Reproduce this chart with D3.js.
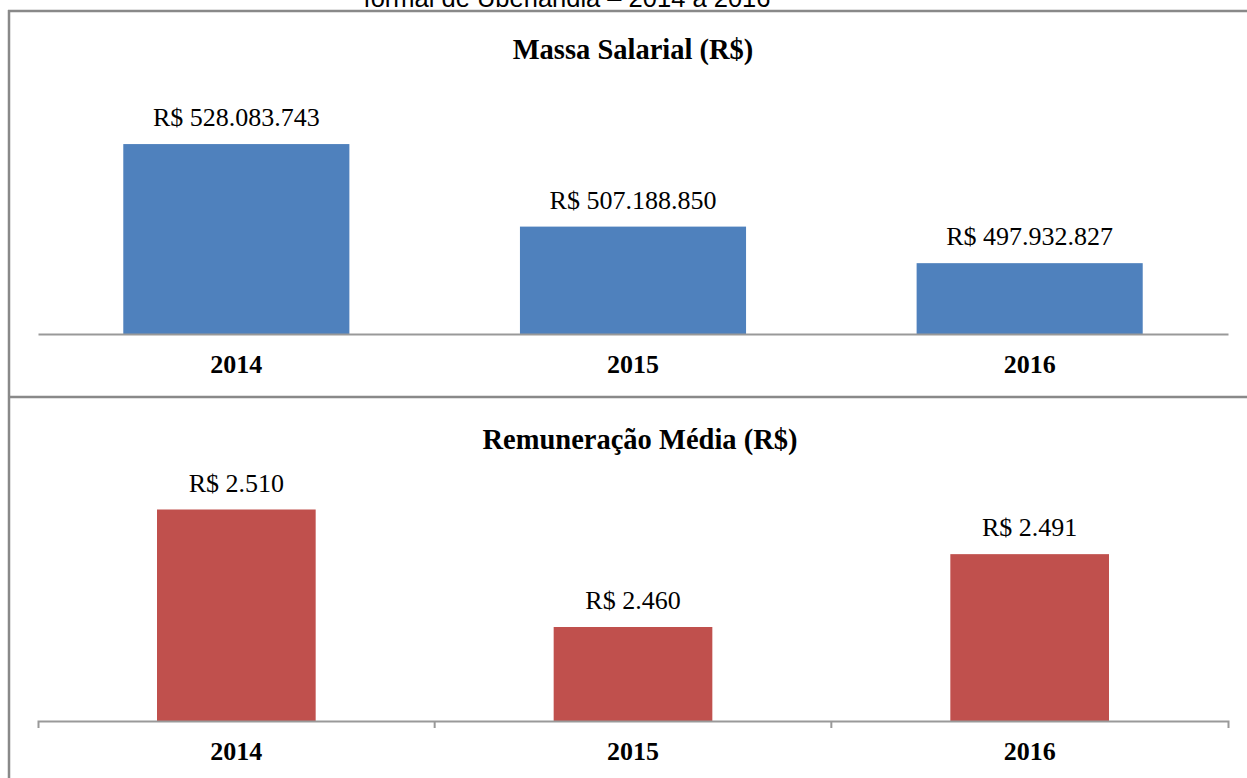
<!DOCTYPE html>
<html>
<head>
<meta charset="utf-8">
<script src="https://cdn.jsdelivr.net/npm/d3@7"></script>
<style>
    body { margin: 0; background: #fff; }
    svg { display: block; }
    .axis path, .axis line { stroke: #999; stroke-width: 2; }
    .axis text { font-family: "Liberation Serif", "Times New Roman", serif; font-size: 26px; font-weight: bold; fill: #000; }
</style>
</head>
<body>
<div class="container"></div>
<script>
// DATA
const years = ["2014", "2015", "2016"];
const massaSalarial = [528083743, 507188850, 497932827];
const remuneracaoMedia = [2510, 2460, 2491];

const W = 1247, H = 778;

const svg = d3.select(".container")
    .append("svg")
    .attr("width", W)
    .attr("height", H);

// partially visible title (cut off at top, as in the source)
svg.append("text")
    .attr("x", 567)
    .attr("y", 7)
    .attr("text-anchor", "middle")
    .style("font-family", "'Liberation Sans', Arial, sans-serif")
    .style("font-size", "25.5px")
    .text("formal de Uberlândia – 2014 a 2016");

// frame lines
const frame = svg.append("g")
    .attr("stroke", "#898989")
    .attr("stroke-width", 2.5);
frame.append("line").attr("x1", 8).attr("x2", W).attr("y1", 11).attr("y2", 11);
frame.append("line").attr("x1", 9).attr("x2", 9).attr("y1", 10).attr("y2", H);
frame.append("line").attr("x1", 9).attr("x2", W).attr("y1", 397).attr("y2", 397);

const fmt = d3.formatLocale({ decimal: ",", thousands: ".", grouping: [3], currency: ["R$ ", ""] }).format("$,.0f");

function panel(opts) {
    const x = d3.scaleBand()
        .domain(years)
        .range([38, 1228])
        .paddingInner(opts.pad)
        .paddingOuter(opts.pad / 2);

    const y = d3.scaleLinear()
        .domain(opts.domain)
        .range(opts.range);

    const g = svg.append("g");

    // title
    g.append("text")
        .attr("x", opts.titleX)
        .attr("y", opts.titleY)
        .attr("text-anchor", "middle")
        .style("font-family", "'Liberation Serif', 'Times New Roman', serif")
        .style("font-size", "28.5px")
        .style("font-weight", "bold")
        .text(opts.title);

    const data = years.map((d, i) => ({ year: d, value: opts.values[i] }));

    // bars
    g.selectAll("rect")
        .data(data)
        .enter()
        .append("rect")
        .attr("x", d => x(d.year))
        .attr("width", x.bandwidth())
        .attr("y", d => y(d.value))
        .attr("height", d => opts.range[0] - y(d.value))
        .attr("fill", opts.color);

    // value labels
    g.selectAll("text.value")
        .data(data)
        .enter()
        .append("text")
        .attr("class", "value")
        .attr("x", d => x(d.year) + x.bandwidth() / 2)
        .attr("y", d => y(d.value) - 18)
        .attr("text-anchor", "middle")
        .style("font-family", "'Liberation Serif', 'Times New Roman', serif")
        .style("font-size", "26px")
        .text(d => fmt(d.value));

    // axis
    const axis = g.append("g")
        .attr("class", "axis")
        .attr("transform", `translate(0, ${opts.range[0]})`)
        .call(d3.axisBottom(x).tickSizeInner(0).tickSizeOuter(opts.ticks ? 7 : 0));

    axis.selectAll(".tick text")
        .attr("y", 39)
        .attr("dy", 0);

    if (opts.ticks) {
        // category boundary ticks
        axis.selectAll("line.sep")
            .data(years.slice(1))
            .enter()
            .append("line")
            .attr("class", "sep")
            .attr("x1", d => x(d) - x.step() * opts.pad / 2)
            .attr("x2", d => x(d) - x.step() * opts.pad / 2)
            .attr("y1", 0)
            .attr("y2", 7);
    }
}

panel({
    title: "Massa Salarial (R$)",
    titleX: 633,
    titleY: 59,
    values: massaSalarial,
    domain: [480000000, 540000000],
    range: [334, 97],
    pad: 0.43,
    color: "#4F81BD",
    ticks: false
});

panel({
    title: "Remuneração Média (R$)",
    titleX: 640,
    titleY: 449,
    values: remuneracaoMedia,
    domain: [2420, 2520],
    range: [721, 486],
    pad: 0.60,
    color: "#C0504D",
    ticks: true
});
</script>
</body>
</html>
